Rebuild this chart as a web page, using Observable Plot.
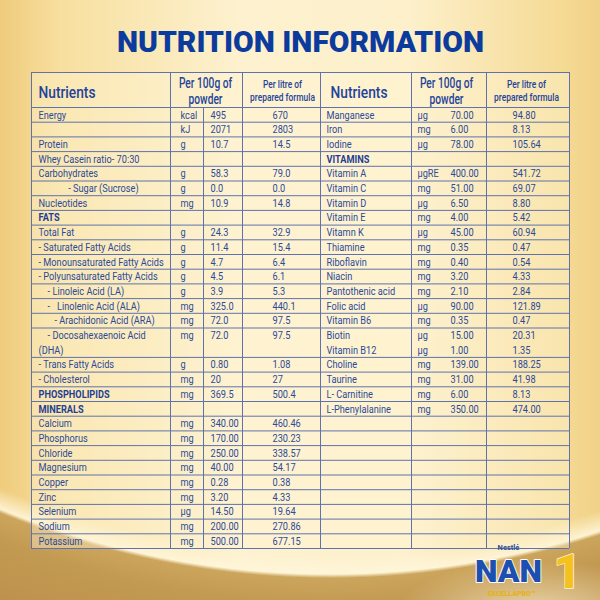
<!DOCTYPE html>
<html>
<head>
<meta charset="utf-8">
<script src="https://cdn.jsdelivr.net/npm/d3@7"></script>
<script src="https://cdn.jsdelivr.net/npm/@observablehq/plot@0.6"></script>
<style>
  html, body { margin: 0; padding: 0; background: #f6dfa3; }
</style>
</head>
<body>
<script>
// ---------- DATA ----------
const title = "NUTRITION INFORMATION";
const headNutrients = "Nutrients";
const headPer100 = ["Per 100g of", "powder"];
const headPerLitre = ["Per litre of", "prepared formula"];
const sectionHeads = ["FATS", "PHOSPHOLIPIDS", "MINERALS", "VITAMINS"];

const leftNames = ["Energy", "", "Protein", "Whey Casein ratio- 70:30", "Carbohydrates",
  "             - Sugar (Sucrose)", "Nucleotides", "FATS", "Total Fat",
  "- Saturated Fatty Acids", "- Monounsaturated Fatty Acids", "- Polyunsaturated Fatty Acids",
  "    - Linoleic Acid (LA)", "    -   Linolenic Acid (ALA)", "       - Arachidonic Acid (ARA)",
  "    - Docosahexaenoic Acid", "(DHA)", "- Trans Fatty Acids", "- Cholesterol",
  "PHOSPHOLIPIDS", "MINERALS", "Calcium", "Phosphorus", "Chloride", "Magnesium",
  "Copper", "Zinc", "Selenium", "Sodium", "Potassium"];
const leftUnits = ["kcal", "kJ", "g", "", "g", "g", "mg", "", "g", "g", "g", "g", "g", "mg", "mg",
  "mg", "", "g", "mg", "mg", "", "mg", "mg", "mg", "mg", "mg", "mg", "µg", "mg", "mg"];
const leftPer100 = ["495", "2071", "10.7", "", "58.3", "0.0", "10.9", "", "24.3", "11.4", "4.7",
  "4.5", "3.9", "325.0", "72.0", "72.0", "", "0.80", "20", "369.5", "", "340.00", "170.00",
  "250.00", "40.00", "0.28", "3.20", "14.50", "200.00", "500.00"];
const leftPerLitre = ["670", "2803", "14.5", "", "79.0", "0.0", "14.8", "", "32.9", "15.4", "6.4",
  "6.1", "5.3", "440.1", "97.5", "97.5", "", "1.08", "27", "500.4", "", "460.46", "230.23",
  "338.57", "54.17", "0.38", "4.33", "19.64", "270.86", "677.15"];

const rightNames = ["Manganese", "Iron", "Iodine", "VITAMINS", "Vitamin A", "Vitamin C",
  "Vitamin D", "Vitamin E", "Vitamn K", "Thiamine", "Riboflavin", "Niacin", "Pantothenic acid",
  "Folic acid", "Vitamin B6", "Biotin", "Vitamin B12", "Choline", "Taurine", "L- Carnitine",
  "L-Phenylalanine"];
const rightUnits = ["µg", "mg", "µg", "", "µgRE", "mg", "µg", "mg", "µg", "mg", "mg", "mg", "mg",
  "µg", "mg", "µg", "µg", "mg", "mg", "mg", "mg"];
const rightPer100 = ["70.00", "6.00", "78.00", "", "400.00", "51.00", "6.50", "4.00", "45.00",
  "0.35", "0.40", "3.20", "2.10", "90.00", "0.35", "15.00", "1.00", "139.00", "31.00", "6.00",
  "350.00"];
const rightPerLitre = ["94.80", "8.13", "105.64", "", "541.72", "69.07", "8.80", "5.42", "60.94",
  "0.47", "0.54", "4.33", "2.84", "121.89", "0.47", "20.31", "1.35", "188.25", "41.98", "8.13",
  "474.00"];
const rowCount = 30;
const mergedBoundaries = [16]; // no rule between DHA lines / Biotin–B12

const brand = {nestle: "Nestlé", nan: "NAN", sub: "EXCELLAPRO™", stage: "1"};

// ---------- LAYOUT ----------
const L = {top: 72, body: 107, bottom: 548, left: 31, right: 569};
const colEdges = [31, 170, 203, 242, 320, 411, 486, 569];
const X = {lName: 38, lUnit: 180, lP100: 210, lPL: 272, rName: 326, rUnit: 417, rP100: 450, rPL: 512,
  lHeadP100: 205, lHeadPL: 282, rHeadP100: 446, rHeadPL: 526};
const rowH = (L.bottom - L.body) / rowCount;
const Y = px => (px - L.body) / rowH;   // pixel -> row units (for header/title placement)

const ink = "#2b4a9c";
const lineCol = "#5f72ad";
const font = "Roboto, 'Open Sans', sans-serif";
const nb = s => s.replace(/ /g, "\u00a0");

const mk = (names, units, p100, pl) => names.map((n, i) => ({row: i, name: nb(n), unit: units[i], p100: p100[i], pl: pl[i]}));
const leftRows = mk(leftNames, leftUnits, leftPer100, leftPerLitre);
const rightRows = mk(rightNames, rightUnits, rightPer100, rightPerLitre);
const isHead = d => sectionHeads.includes(d.name);

const hLines = [Y(L.top), ...d3.range(0, rowCount + 1).filter(b => !mergedBoundaries.includes(b))];
const vFull = colEdges.filter(x => x !== 203);

const bodyText = (rows, field, x, maxW, extra = {}) => Plot.text(rows.filter(d => d[field]), {
  x, y: d => d.row + 0.5, text: field, textAnchor: "start", lineAnchor: "middle",
  fontSize: 11.5, fontFamily: font, fill: ink, ariaDescription: `cond:0.8:${maxW}`, ...extra
});

const bg = [
  "radial-gradient(140px 55px at 535px 615px, rgba(250,238,205,0.75), rgba(250,238,205,0) 100%)",
  "radial-gradient(926px 990px at 330px -412px, rgba(255,247,220,0) 97.6%, rgba(255,246,218,0.9) 99.6%, #cca55c 100%, #c39a52 102.5%, #bd924d 108%)",
  "linear-gradient(90deg, #efcb7c 0%, #f7df9f 10%, #fdf1cf 40%, #fdf0cb 68%, #f5da94 94%, #f1d187 100%)"
].join(",");

const chart = Plot.plot({
  width: 600, height: 600, margin: 0,
  x: {type: "identity", axis: null},
  y: {type: "linear", domain: [0, rowCount], range: [L.body, L.bottom], axis: null},
  style: {background: bg, overflow: "visible"},
  marks: [
    Plot.rect([0], {x1: L.left, x2: L.right, y1: Y(L.top), y2: rowCount, fill: "#fff6d5", fillOpacity: 0.4}),
    Plot.ruleY(hLines, {y: d => d, x1: L.left, x2: L.right, stroke: lineCol, strokeWidth: 1}),
    Plot.ruleX(vFull, {x: d => d, y1: Y(L.top), y2: rowCount, stroke: lineCol, strokeWidth: 1}),
    Plot.ruleX([203], {x: d => d, y1: 0, y2: rowCount, stroke: lineCol, strokeWidth: 1}),

    // title
    Plot.text([title], {x: 300, y: Y(42), text: d => d, fontSize: 30, fontWeight: 900, fontFamily: font,
      fill: "#0c3b9e", lineAnchor: "middle"}),

    // headers
    Plot.text([headNutrients, headNutrients], {x: (d, i) => i ? X.rName + 4 : X.lName, y: Y(92), text: d => d,
      textAnchor: "start", lineAnchor: "middle", fontSize: 16, fontWeight: 500, fontFamily: font, fill: "#23449b",
      ariaDescription: "cond:0.86:200"}),
    Plot.text([...headPer100, ...headPer100], {x: (d, i) => i < 2 ? X.lHeadP100 : X.rHeadP100,
      y: (d, i) => Y(i % 2 ? 99 : 83.5), text: d => d, lineAnchor: "middle", fontSize: 14, fontWeight: 500,
      fontFamily: font, fill: "#23449b", ariaDescription: "cond:0.73:200"}),
    Plot.text([...headPerLitre, ...headPerLitre], {x: (d, i) => i < 2 ? X.lHeadPL : X.rHeadPL,
      y: (d, i) => Y(i % 2 ? 97.5 : 84), text: d => d, lineAnchor: "middle", fontSize: 10.5, fontWeight: 500,
      fontFamily: font, fill: "#23449b", ariaDescription: "cond:0.8:200"}),

    // left block
    bodyText(leftRows.filter(d => !isHead(d)), "name", X.lName, 127),
    bodyText(leftRows.filter(isHead), "name", X.lName, 127, {fontWeight: 700, fill: "#1f3f96"}),
    bodyText(leftRows, "unit", X.lUnit, 22),
    bodyText(leftRows, "p100", X.lP100, 30),
    bodyText(leftRows, "pl", X.lPL, 44),
    // right block
    bodyText(rightRows.filter(d => !isHead(d)), "name", X.rName, 80),
    bodyText(rightRows.filter(isHead), "name", X.rName, 80, {fontWeight: 700, fill: "#1f3f96"}),
    bodyText(rightRows, "unit", X.rUnit, 30),
    bodyText(rightRows, "p100", X.rP100, 34),
    bodyText(rightRows, "pl", X.rPL, 50),

    // brand
    Plot.text([brand.nestle], {x: 508, y: Y(547.5), text: d => d, fontSize: 7.5, fontWeight: 700, fontFamily: font,
      fill: "#2c4f9c", lineAnchor: "middle"}),
    Plot.text([brand.nan], {x: 508, y: Y(571), text: d => d, fontSize: 32, fontWeight: 900, fontFamily: font,
      fill: "#1b4fb0", stroke: "#fffaf0", strokeWidth: 2, paintOrder: "stroke", lineAnchor: "middle"}),
    Plot.text([brand.sub], {x: 511, y: Y(593), text: d => d, fontSize: 7, fontWeight: 900, fontFamily: font,
      fill: "#e4b21f", lineAnchor: "middle"}),
    Plot.text([brand.stage], {x: 567, y: Y(572), text: d => d, fontSize: 48, fontWeight: 900, fontFamily: font,
      fill: "#f5c11c", stroke: "#fff6d6", strokeWidth: 1.5, paintOrder: "stroke", lineAnchor: "middle"})
  ]
});
document.body.append(chart);

// condense body glyphs horizontally (narrow typeface of the original), keeping each anchor point
chart.querySelectorAll('g[aria-description^="cond"]').forEach(g => {
  const [, f, m] = g.getAttribute("aria-description").split(":").map(Number);
  g.querySelectorAll("text").forEach(t => {
    const w = t.getComputedTextLength();
    if (!(w > 0)) return;
    const s = Math.min(f, m / w);
    const x = parseFloat(t.getAttribute("x")) || 0;
    const tr = t.getAttribute("transform") || "";
    t.removeAttribute("x");
    t.setAttribute("transform", `${tr} translate(${x},0) scale(${s.toFixed(4)},1)`.trim());
  });
});
</script>
</body>
</html>
